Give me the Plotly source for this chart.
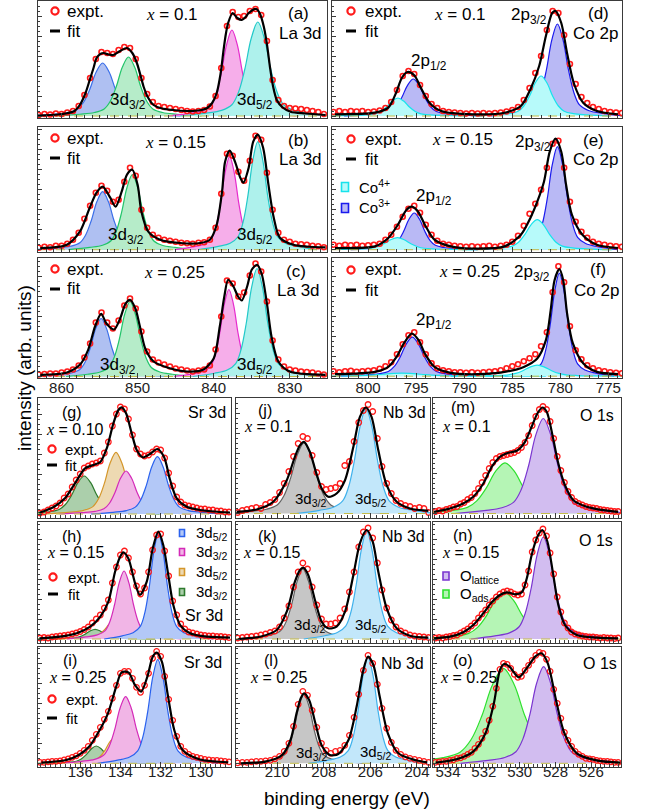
import numpy as np
import plotly.graph_objects as go

W, H = 649, 810
SANS = "Liberation Sans, Arial, sans-serif"

# ---------------- normalised line shape of one fitted component ----------------
# offsets in units of the FWHM, heights relative to the peak height
shape_dx = [-3.0, -2.0, -1.4, -1.0, -0.75, -0.5, -0.25, 0.0, 0.25, 0.5, 0.75, 1.0, 1.4, 2.0, 3.0]
shape_dy = [0.0, 0.03, 0.06, 0.12, 0.25, 0.5, 0.83, 1.0, 0.83, 0.5, 0.25, 0.12, 0.06, 0.03, 0.0]

# ---------------- measurement grids (first, last energy in eV) ----------------
la_grid = (863.0, 825.5)
co_grid = (803.6, 773.6)
sr_grid = (138.0, 128.6)
nb_grid = (211.7, 203.5)
o_grid = (534.7, 524.5)

# ---------------- La 3d ----------------
a_exp = [1, 2, 1.5, 2.5, 2, 3.5, 5, 10, 21, 38, 57, 64, 63, 62, 66, 69, 68, 57, 38, 22,
         14, 10, 9, 8, 7, 6, 5, 4.5, 5, 6, 9.5, 20, 48, 90, 104, 99, 100, 105, 107, 101,
         75, 36, 16, 10, 8, 7.5, 7, 6, 5, 4, 2]
a_fit_e = [863.1, 860.5, 859.3, 858.3, 857.6, 856.9, 856.3, 855.8, 855.4, 854.9, 854.5, 853.8, 853.2,
           852.3, 851.4, 850.7, 850.1, 849.6, 849.2, 848.6, 847.9, 846.8, 845.3, 843.5, 842.7, 841.6,
           840.9, 840.2, 839.6, 839.1, 838.7, 838.4, 838.1, 837.5, 836.9, 836.3, 835.8, 835.4, 834.4,
           833.9, 833.4, 833.0, 832.6, 832.2, 831.7, 831.0, 829.9, 828.0, 825.3]
a_fit_h = [0.5, 1.5, 2.7, 5, 11, 22, 36, 48, 58, 62, 63, 61.5, 61, 65, 68, 63, 53, 40, 29, 18, 11, 7.5,
           6, 5, 5, 6, 7.7, 13, 23, 42, 66, 82, 93, 103, 98, 96, 99, 103, 107, 102, 89, 72, 49, 30, 16,
           9, 4.3, 2.5, 1]
a_cen = [854.6, 851.2, 837.6, 834.2]
a_hgt = [53, 59, 86, 94]
a_fwhm = [3.4, 3.2, 2.8, 3.4]

b_exp = [2, 3, 2.5, 4, 4, 6, 10, 17, 31, 44, 57, 64, 59, 48, 50, 68, 82, 74, 40, 22,
         15, 12, 10, 9, 8, 7, 6.5, 6, 7, 7.5, 10, 22, 56, 96, 94, 78, 69, 89, 114, 110,
         77, 40, 17, 10, 8, 6, 5.5, 5, 4, 3.5, 2.5]
b_fit_e = [862.8, 859.3, 857.6, 856.3, 855.4, 854.6, 853.6, 852.9, 852.1, 851.4, 850.7, 850.0, 849.5,
           848.6, 847.05, 844.4, 841.8, 840.5, 839.6, 838.9, 838.5, 837.9, 837.2, 836.5, 836.1, 835.4,
           834.8, 834.2, 833.5, 832.8, 832.1, 831.3, 829.5, 825.3]
b_fit_h = [1.7, 5, 18, 42, 57, 63, 52, 43, 58, 75, 80, 65, 38, 18, 10, 6.7, 6.7, 10, 25, 58, 88, 99, 88,
           72, 67, 82, 108, 115, 102, 65, 32, 12, 5, 2.3]
b_cen = [854.6, 850.7, 837.9, 834.2]
b_hgt = [58, 75, 93, 108]
b_fwhm = [3.0, 2.8, 2.4, 2.6]

c_exp = [2, 2.5, 3, 3, 4, 5, 7, 11, 19, 33, 54, 64, 54, 48, 56, 71, 78, 68, 45, 25,
         17, 14, 12, 10, 8, 7, 6, 5, 6, 7, 11, 27, 60, 96, 93, 80, 84, 101, 113, 105,
         75, 36, 17, 10, 7, 6, 5, 4.5, 4, 3, 2]
c_fit_e = [862.8, 859.3, 857.6, 856.5, 855.6, 854.8, 854.1, 853.1, 852.3, 851.6, 851.0, 850.3, 849.7,
           849.0, 847.9, 846.2, 843.5, 841.4, 840.0, 839.2, 838.6, 838.1, 837.4, 836.8, 836.3, 835.6,
           835.0, 834.3, 833.7, 833.0, 832.4, 831.5, 830.0, 825.3]
c_fit_h = [1.7, 4, 11.7, 26.7, 50, 62.7, 53, 47, 58, 72.7, 76.7, 68, 50, 28, 15, 9.3, 5, 6.7, 18, 50, 80,
           96.7, 90, 80, 76, 90, 106.7, 111.7, 103, 73, 40, 15, 5, 1.7]
c_cen = [854.8, 851.0, 838.0, 834.3]
c_hgt = [58, 75, 87, 108]
c_fwhm = [2.8, 2.8, 2.4, 2.8]

# ---------------- Co 2p (Co3+ 2p1/2, Co3+ 2p3/2, Co4+ 2p1/2, Co4+ 2p3/2) ----------------
d_exp = [4, 5, 4, 5, 4.5, 5, 4, 4.5, 5.5, 8, 14, 26, 40, 45, 42, 31, 20, 12, 8, 5,
         4, 3.5, 3, 2.5, 3, 2.5, 3, 2.5, 3, 3.5, 4.5, 6, 9, 16, 28, 43, 60, 86, 105, 103,
         81, 52, 32, 19, 13, 9, 7, 5, 4, 3.5, 3]
d_fit_e = [803.45, 799.3, 797.9, 797.1, 796.5, 795.9, 795.2, 794.5, 793.6, 792.4, 789.0, 785.8, 784.1,
           783.1, 782.2, 781.5, 780.85, 780.5, 779.9, 779.3, 778.6, 777.6, 776.2, 774.0]
d_fit_h = [1.7, 3.3, 8.3, 23, 38, 44, 40.7, 28, 13, 5, 1.7, 3.3, 10, 27, 50, 80, 103, 105, 93, 63, 33,
           13, 5, 1.7]
d_cen = [795.3, 780.3, 796.9, 782.0]
d_hgt = [37, 92, 18, 40]
d_fwhm = [2.4, 2.3, 2.4, 2.4]

e_exp = [5, 4, 5, 4.5, 5, 4, 4.5, 5, 6, 10, 15, 23, 33, 41, 44, 37, 25, 15, 9, 6,
         5, 4, 3.5, 3, 3.5, 3, 3.5, 4, 3, 4, 5, 8, 14, 24, 36, 46, 60, 82, 106, 109,
         82, 48, 28, 18, 12, 8, 6, 5, 4, 3.5, 3]
e_fit_e = [803.45, 799.3, 797.9, 796.9, 796.0, 795.45, 794.8, 794.1, 793.1, 791.4, 788.6, 785.8, 784.1,
           783.1, 782.4, 781.7, 781.1, 780.5, 779.9, 779.4, 778.8, 777.7, 776.2, 774.0]
e_fit_h = [1.7, 3.3, 11.7, 25, 40, 43, 38, 25, 10, 3.3, 1, 3.3, 15, 32, 48, 68, 98, 111, 98, 65, 35, 15,
           5, 1.7]
e_cen = [795.2, 780.3, 796.95, 782.4]
e_hgt = [36.7, 103, 12, 30]
e_fwhm = [2.2, 2.1, 2.8, 2.6]

f_exp = [5, 4, 5, 5.5, 4.5, 5, 5.5, 6, 7.5, 10, 14, 22, 32, 41, 44, 34, 22, 13, 8, 6,
         5, 4, 4, 3.5, 4, 3.5, 4, 4.5, 5, 6, 8, 10, 12, 15, 18, 22, 30, 44, 84, 110,
         94, 50, 26, 17, 11, 8, 6, 5, 4, 3.5, 3]
f_fit_e = [803.45, 799.3, 797.9, 797.06, 796.2, 795.45, 794.75, 794.1, 793.1, 791.4, 788.6, 785.8,
           783.8, 782.4, 781.5, 781.0, 780.6, 780.1, 779.7, 779.3, 778.7, 777.6, 776.2, 774.0]
f_fit_h = [2, 4.3, 9.3, 19, 34, 42.7, 36, 22.7, 9.3, 3.3, 2, 4.3, 9.3, 17.7, 36, 66, 96, 107, 96, 63, 33,
           12.7, 4.3, 2]
f_cen = [795.4, 780.1, 796.5, 782.4]
f_hgt = [39, 103, 3, 11]
f_fwhm = [2.5, 1.9, 5.0, 3.0]

# ---------------- Sr 3d (green, tan, pink, blue) ----------------
g_exp = [1, 2, 4, 6, 8, 11, 16, 20, 27, 34, 40, 46, 48, 50, 51, 53, 61, 72, 88, 100,
         107, 105, 95, 79, 65, 60, 58, 59, 62, 65, 64, 56, 41, 28, 17, 12, 9, 8, 7, 6,
         5, 5, 4, 4, 3, 3, 2, 2]
g_fit_e = [138.03, 137.34, 136.76, 136.26, 135.76, 135.35, 135.0, 134.68, 134.35, 134.1, 133.94,
           133.72, 133.44, 133.19, 132.89, 132.53, 132.16, 131.83, 131.53, 131.2, 130.7, 130.04, 128.55]
g_fit_h = [1.3, 6.7, 15.7, 30.7, 45.7, 49, 52, 65.7, 90.7, 104, 106.7, 100.7, 80.7, 64, 56.7, 60, 65,
           57, 34, 15.7, 7.3, 4, 1.3]
g_cen = [135.8, 134.22, 133.72, 132.16]
g_hgt = [38, 61.7, 43, 57.3]
g_fwhm = [1.25, 1.15, 1.1, 1.1]

h_exp = [1, 1.5, 1, 2, 2.5, 3, 3.5, 4, 5, 6, 7.5, 9.5, 12, 16, 20, 24, 31, 39, 56, 72,
         84, 88, 81, 67, 53, 45, 51, 67, 89, 104, 105, 88, 63, 38, 24, 15, 10, 7, 6, 5,
         4, 3.5, 3, 3, 2.5, 2.5, 2, 1.5]
h_fit_e = [138.03, 137.0, 136.17, 135.5, 135.0, 134.6, 134.27, 134.02, 133.86, 133.61, 133.27, 133.03,
           132.69, 132.39, 132.11, 131.87, 131.62, 131.37, 131.03, 130.54, 129.71, 128.55]
h_fit_h = [0.7, 2.3, 5.7, 12.3, 22.3, 37.3, 67, 82, 86.7, 80.7, 55.7, 44, 57.3, 90.7, 107.3, 94, 64, 34,
           14, 5.7, 2.3, 1.3]
h_cen = [135.26, 134.3, 133.82, 132.11]
h_hgt = [9.7, 18, 68, 105.7]
h_fwhm = [1.0, 1.0, 0.95, 0.9]

i_exp = [1, 1, 1.5, 2, 2, 2.5, 3.5, 4.5, 6, 7.5, 10, 13, 17, 23, 29, 36, 44, 52, 65, 78,
         90, 92, 92, 85, 76, 71, 78, 90, 105, 112, 107, 87, 64, 43, 27, 17, 12, 9, 7, 6,
         5, 4, 3.5, 3, 3, 2.5, 2, 1.5]
i_fit_e = [137.93, 136.69, 136.07, 135.55, 135.04, 134.62, 134.21, 133.94, 133.59, 133.28, 132.97,
           132.66, 132.39, 132.19, 131.94, 131.63, 131.32, 130.91, 130.08, 128.64]
i_fit_h = [0.7, 3.3, 8.3, 16.7, 33, 50, 76.7, 91, 90.7, 78.3, 71.7, 86.7, 106.7, 110.7, 101.7, 66.7, 33,
           13.3, 4, 1]
i_cen = [135.2, 134.27, 133.74, 132.14]
i_hgt = [17.3, 26, 66.7, 104]
i_fwhm = [1.0, 1.0, 1.1, 1.0]

# ---------------- Nb 3d (3d3/2 grey, 3d5/2 blue) ----------------
j_exp = [1, 3, 4, 5, 6, 5, 9, 11, 14, 21, 30, 42, 57, 70, 77, 75, 58, 41, 27, 24,
         25, 26, 30, 48, 52, 72, 91, 103, 109, 102, 75, 47, 30, 20, 13, 10, 8, 7, 5, 6, 5, 1]
j_fit_e = [211.74, 210.88, 210.17, 209.59, 209.24, 209.02, 208.85, 208.6, 208.34, 208.09, 207.81,
           207.45, 207.09, 206.73, 206.45, 206.19, 205.95, 205.66, 205.3, 204.87, 204.3, 203.51]
j_fit_h = [1.7, 4, 11.7, 33.3, 56.7, 68.3, 71.7, 61.7, 41.7, 25, 16.7, 20, 33.3, 66.7, 96.7, 106, 96.7,
           63.3, 28.3, 11.7, 5, 2.7]
j_cen = [208.85, 206.19]
j_hgt = [70.7, 105]
j_fwhm = [1.15, 1.0]

k_exp = [1, 1.5, 2, 2.5, 3, 4, 5, 6.5, 8, 12, 21, 33, 52, 67, 76, 70, 52, 34, 20, 15,
         15, 16, 21, 30, 47, 67, 92, 107, 111, 101, 76, 49, 31, 19, 12, 8, 6, 4, 3, 2.5, 2, 1.5]
k_fit_e = [211.67, 210.74, 210.02, 209.59, 209.24, 209.02, 208.88, 208.67, 208.38, 208.09, 207.81,
           207.45, 207.09, 206.73, 206.45, 206.16, 205.9, 205.66, 205.3, 204.87, 204.3, 203.51]
k_fit_h = [0, 2.3, 9, 27.3, 57.3, 69, 71.3, 64, 39, 17.3, 10.7, 12.3, 27.3, 64, 95.7, 109, 97.3, 67.3,
           30.7, 10.7, 3.3, 1.3]
k_cen = [208.9, 206.16]
k_hgt = [70, 108]
k_fwhm = [0.95, 0.9]

l_exp = [0.5, 1, 1, 1.5, 2, 2, 2.5, 3, 4.5, 7, 12, 20, 37, 59, 72, 68, 53, 36, 20, 13,
         10, 12, 13, 18, 28, 46, 69, 93, 108, 100, 79, 55, 35, 21, 13, 9, 6.5, 5, 4, 3, 2, 1]
l_fit_e = [211.57, 210.5, 209.79, 209.43, 209.17, 208.99, 208.85, 208.63, 208.36, 208.1, 207.74,
           207.38, 206.94, 206.59, 206.32, 206.1, 205.87, 205.6, 205.25, 204.8, 204.09, 203.56]
l_fit_h = [0, 1.7, 8.3, 23.3, 50, 65, 70, 63.3, 40, 18.3, 8.3, 9.3, 23.3, 56.7, 91.7, 106.7, 98.3, 66.7,
           30, 10, 3.3, 1]
l_cen = [208.85, 206.1]
l_hgt = [69, 106]
l_fwhm = [0.85, 0.85]

# ---------------- O 1s (O_ads green, O_lattice purple) ----------------
m_exp = [2, 3, 2.5, 4, 5, 6.5, 7, 9.5, 11, 14, 16, 20, 25, 31, 38, 45, 51, 55, 57, 58,
         59, 60, 61, 63, 66, 71, 78, 88, 97, 104, 107, 104, 92, 75, 57, 43, 31, 22, 16, 12,
         10, 8.5, 7, 6, 5.5, 5, 4, 3.5, 3, 2.5, 2, 2]
m_fit_e = [534.78, 533.89, 533.15, 532.59, 532.03, 531.56, 531.1, 530.63, 530.16, 529.7, 529.33,
           529.01, 528.73, 528.49, 528.15, 527.84, 527.47, 527.0, 526.25, 525.33, 524.5]
m_fit_h = [1.7, 5, 10, 16.7, 30, 46.7, 56.7, 60.7, 62.7, 71.7, 86.7, 100, 106, 101.7, 76.7, 50, 28.3,
           13.3, 6.7, 3.3, 1.7]
m_cen = [530.82, 528.68]
m_hgt = [50.7, 95]
m_fwhm = [2.1, 1.65]

n_exp = [1, 1.5, 1, 2, 2.5, 3.5, 4, 6, 8, 10, 13, 16, 21, 25, 29, 34, 38, 42, 45, 47,
         48, 47, 45, 44, 45, 54, 68, 87, 99, 106, 110, 103, 86, 65, 42, 27, 16, 11, 7, 5,
         4, 3, 2.5, 2, 2, 1.5, 1, 1.5, 1, 1, 0.5, 1]
n_fit_e = [534.78, 533.89, 533.15, 532.59, 532.03, 531.56, 531.1, 530.72, 530.26, 529.88, 529.6,
           529.33, 529.01, 528.73, 528.45, 528.15, 527.84, 527.47, 526.81, 525.7, 524.5]
n_fit_h = [0.7, 2.3, 6.7, 14, 25.7, 36.7, 44, 46.7, 44.7, 46.7, 60.7, 84, 102.3, 109, 97.3, 67.3, 34, 14,
           4, 1.3, 0.7]
n_cen = [530.85, 528.68]
n_hgt = [46.7, 102]
n_fwhm = [2.0, 1.35]

o_exp = [1, 1.5, 2, 2, 3, 3.5, 5, 5.5, 7, 9, 11, 15, 19, 25, 32, 43, 57, 75, 94, 100,
         99, 95, 89, 86, 87, 93, 98, 103, 108, 111, 110, 104, 92, 74, 60, 45, 31, 23, 17, 12,
         9, 7, 5, 4.5, 4, 3, 2.5, 2, 2, 1.5, 1, 1]
o_fit_e = [534.69, 533.53, 532.6, 531.91, 531.44, 531.1, 530.87, 530.57, 530.05, 529.54, 529.13,
           528.78, 528.43, 527.97, 527.5, 526.81, 525.65, 524.38]
o_fit_h = [0.7, 4, 11.7, 30, 60, 93.3, 99.3, 96.7, 86, 96.7, 106.7, 110, 100, 63.3, 30, 10, 2.7, 0.7]
o_cen = [530.91, 528.66]
o_hgt = [95, 96.7]
o_fwhm = [2.4, 1.55]

# ---------------- axis ranges / tick labels ----------------
la_range = [863.1, 825.1]
co_range = [803.76, 773.58]
sr_range = [138.1, 128.5]
nb_range = [211.77, 203.44]
o_range = [534.84, 524.34]
la_ticks = [860, 850, 840, 830]
co_ticks = [800, 795, 790, 785, 780, 775]
sr_ticks = [136, 134, 132, 130]
nb_ticks = [210, 208, 206, 204]
o_ticks = [534, 532, 530, 528, 526]

# ---------------- styling ----------------
LA_COL = [("#3a6ee8", "#afc0f2"), ("#22c46a", "#b6ecc9"), ("#e62ccd", "#f6aeea"), ("#22c9c9", "#aef1ec")]
CO_COL = [("#1a1aee", "#b9b9f5"), ("#1a1aee", "#b9b9f5"), ("#17e3ec", "#b7fafa"), ("#17e3ec", "#b7fafa")]
SR_COL = [("#2d7a2d", "#abcfab"), ("#d4962a", "#edd9b2"), ("#d42ab8", "#f1b5e6"), ("#2a62ee", "#b3c8f7")]
NB_COL = [("#606060", "#c6c6c6"), ("#3fb1ec", "#c2e7fa")]
O_COL = [("#2ee02e", "#b5f5b5"), ("#7a35d0", "#d2bdf0")]

# (data, box x0,x1,y0,y1, baseline y) in pixels
panels = [
    dict(exp=a_exp, grid=la_grid, fe=a_fit_e, fh=a_fit_h, cen=a_cen, hgt=a_hgt, fw=a_fwhm, col=LA_COL,
         box=(38, 327, 1, 118, 116), rng=la_range, tv=la_ticks, mdt=1, lab=False, top=True),
    dict(exp=b_exp, grid=la_grid, fe=b_fit_e, fh=b_fit_h, cen=b_cen, hgt=b_hgt, fw=b_fwhm, col=LA_COL,
         box=(38, 327, 127, 252, 249.7), rng=la_range, tv=la_ticks, mdt=1, lab=False, top=True),
    dict(exp=c_exp, grid=la_grid, fe=c_fit_e, fh=c_fit_h, cen=c_cen, hgt=c_hgt, fw=c_fwhm, col=LA_COL,
         box=(38, 327, 258, 378, 376.5), rng=la_range, tv=la_ticks, mdt=1, lab=True, top=True),
    dict(exp=d_exp, grid=co_grid, fe=d_fit_e, fh=d_fit_h, cen=d_cen, hgt=d_hgt, fw=d_fwhm, col=CO_COL,
         box=(332, 622, 1, 118, 116), rng=co_range, tv=co_ticks, mdt=1, lab=False, top=True),
    dict(exp=e_exp, grid=co_grid, fe=e_fit_e, fh=e_fit_h, cen=e_cen, hgt=e_hgt, fw=e_fwhm, col=CO_COL,
         box=(332, 622, 127, 252, 249.7), rng=co_range, tv=co_ticks, mdt=1, lab=False, top=True),
    dict(exp=f_exp, grid=co_grid, fe=f_fit_e, fh=f_fit_h, cen=f_cen, hgt=f_hgt, fw=f_fwhm, col=CO_COL,
         box=(332, 622, 258, 378, 376.2), rng=co_range, tv=co_ticks, mdt=1, lab=True, top=True),
    dict(exp=g_exp, grid=sr_grid, fe=g_fit_e, fh=g_fit_h, cen=g_cen, hgt=g_hgt, fw=g_fwhm, col=SR_COL,
         box=(38, 231, 398, 518, 514), rng=sr_range, tv=sr_ticks, mdt=0.25, lab=False, top=False),
    dict(exp=h_exp, grid=sr_grid, fe=h_fit_e, fh=h_fit_h, cen=h_cen, hgt=h_hgt, fw=h_fwhm, col=SR_COL,
         box=(38, 231, 522.3, 642.7, 639), rng=sr_range, tv=sr_ticks, mdt=0.25, lab=False, top=False),
    dict(exp=i_exp, grid=sr_grid, fe=i_fit_e, fh=i_fit_h, cen=i_cen, hgt=i_hgt, fw=i_fwhm, col=SR_COL,
         box=(38, 231, 646.7, 766.7, 763.3), rng=sr_range, tv=sr_ticks, mdt=0.25, lab=True, top=False),
    dict(exp=j_exp, grid=nb_grid, fe=j_fit_e, fh=j_fit_h, cen=j_cen, hgt=j_hgt, fw=j_fwhm, col=NB_COL,
         box=(236, 430, 398, 518, 513.5), rng=nb_range, tv=nb_ticks, mdt=0.25, lab=False, top=False),
    dict(exp=k_exp, grid=nb_grid, fe=k_fit_e, fh=k_fit_h, cen=k_cen, hgt=k_hgt, fw=k_fwhm, col=NB_COL,
         box=(236, 430, 522.3, 642.7, 639), rng=nb_range, tv=nb_ticks, mdt=0.25, lab=False, top=False),
    dict(exp=l_exp, grid=nb_grid, fe=l_fit_e, fh=l_fit_h, cen=l_cen, hgt=l_hgt, fw=l_fwhm, col=NB_COL,
         box=(236, 430, 646.7, 766.7, 763.3), rng=nb_range, tv=nb_ticks, mdt=0.25, lab=True, top=False),
    dict(exp=m_exp, grid=o_grid, fe=m_fit_e, fh=m_fit_h, cen=m_cen, hgt=m_hgt, fw=m_fwhm, col=O_COL,
         box=(433, 621, 398, 518, 513.5), rng=o_range, tv=o_ticks, mdt=0.25, lab=False, top=False),
    dict(exp=n_exp, grid=o_grid, fe=n_fit_e, fh=n_fit_h, cen=n_cen, hgt=n_hgt, fw=n_fwhm, col=O_COL,
         box=(433, 621, 522.3, 642.7, 639), rng=o_range, tv=o_ticks, mdt=0.25, lab=False, top=False),
    dict(exp=o_exp, grid=o_grid, fe=o_fit_e, fh=o_fit_h, cen=o_cen, hgt=o_hgt, fw=o_fwhm, col=O_COL,
         box=(433, 621, 646.7, 766.7, 763.3), rng=o_range, tv=o_ticks, mdt=0.25, lab=True, top=False),
]

fig = go.Figure()
layout = {}
AX = "#3a3a3a"

for idx, p in enumerate(panels, start=1):
    xa = "x" if idx == 1 else f"x{idx}"
    ya = "y" if idx == 1 else f"y{idx}"
    x0, x1, y0, y1, base = p["box"]
    # fitted components (filled)
    for c, h, fw, (lc, fc) in zip(p["cen"], p["hgt"], p["fw"], p["col"]):
        fig.add_trace(go.Scatter(
            x=[c + fw * d for d in shape_dx], y=[h * d for d in shape_dy],
            mode="lines", line=dict(color=lc, width=1.2, shape="spline", smoothing=1.0),
            fill="tozeroy", fillcolor=fc, xaxis=xa, yaxis=ya, showlegend=False, hoverinfo="skip"))
    # background line
    fig.add_trace(go.Scatter(x=p["rng"], y=[0, 0], mode="lines",
                             line=dict(color="#c4bc4a", width=1, dash="dash"),
                             xaxis=xa, yaxis=ya, showlegend=False, hoverinfo="skip"))
    # experimental points
    ex = np.linspace(p["grid"][0], p["grid"][1], len(p["exp"]))
    fig.add_trace(go.Scatter(
        x=ex, y=p["exp"], mode="markers",
        marker=dict(symbol="circle-open", color="#ff1a1a", size=5 if p["top"] else 5.5,
                    line=dict(width=1.6 if p["top"] else 1.3)),
        xaxis=xa, yaxis=ya, showlegend=False, hoverinfo="skip"))
    # fit envelope
    fig.add_trace(go.Scatter(
        x=p["fe"], y=p["fh"], mode="lines",
        line=dict(color="black", width=2.2, shape="spline", smoothing=0.8),
        xaxis=xa, yaxis=ya, showlegend=False, hoverinfo="skip"))

    layout["xaxis" if idx == 1 else f"xaxis{idx}"] = dict(
        domain=[x0 / W, x1 / W], range=p["rng"], anchor=ya,
        showline=True, mirror=True, linecolor=AX, linewidth=1.4,
        ticks="inside", ticklen=5, tickcolor=AX, tickwidth=1,
        tickmode="array", tickvals=p["tv"],
        minor=dict(ticks="inside", ticklen=2.5, tickcolor=AX, dtick=p["mdt"]),
        showticklabels=p["lab"], ticklabelstandoff=-4 if p["top"] else -9,
        tickfont=dict(size=15, family=SANS, color="#222"),
        showgrid=False, zeroline=False, fixedrange=True)
    layout["yaxis" if idx == 1 else f"yaxis{idx}"] = dict(
        domain=[1 - y1 / H, 1 - y0 / H], range=[-(y1 - base), base - y0], anchor=xa,
        showline=True, mirror=True, linecolor=AX, linewidth=1.4,
        ticks="inside", ticklen=4, tickcolor=AX, dtick=20,
        minor=dict(ticks="inside", ticklen=2, tickcolor=AX, dtick=5),
        showticklabels=False, showgrid=False, zeroline=False, fixedrange=True)

# ---------------- text and legend glyphs ----------------
ann = []
shapes = []


def P(px, py):
    return px / W, 1 - py / H


def txt(px, py, text, size=17, xanchor="center", angle=0):
    x, y = P(px, py)
    ann.append(dict(x=x, y=y, xref="paper", yref="paper", text=text, showarrow=False,
                    xanchor=xanchor, yanchor="middle", textangle=angle,
                    font=dict(size=size, family=SANS, color="black")))


def circ(px, py, r=3.6, w=2.2):
    x0, y0 = P(px - r, py + r)
    x1, y1 = P(px + r, py - r)
    shapes.append(dict(type="circle", xref="paper", yref="paper", x0=x0, y0=y0, x1=x1, y1=y1,
                       line=dict(color="#ff1a1a", width=w)))


def dash(px, py, half=5, w=3):
    x0, y0 = P(px - half, py)
    x1, _ = P(px + half, py)
    shapes.append(dict(type="line", xref="paper", yref="paper", x0=x0, y0=y0, x1=x1, y1=y0,
                       line=dict(color="black", width=w)))


def box(px, py, lc, fc, w=3.5, h=4.5):
    x0, y0 = P(px - w, py + h)
    x1, y1 = P(px + w, py - h)
    shapes.append(dict(type="rect", xref="paper", yref="paper", x0=x0, y0=y0, x1=x1, y1=y1,
                       line=dict(color=lc, width=1.6), fillcolor=fc))


def legend(cx, ye, yf, tx, size):
    circ(cx, ye)
    dash(cx, yf)
    txt(tx, ye, "expt.", size, "left")
    txt(tx, yf, "fit", size, "left")


XI = '<span style="font-family:Liberation Serif, Times New Roman, serif"><i>x</i></span>'

# (a)-(c) La 3d
legend(55, 11, 31, 65, 17)
txt(172, 15, XI + " = 0.1")
txt(298, 13, "(a)")
txt(300, 33, "La 3d")
txt(128, 101, "3d<sub>3/2</sub>")
txt(255, 101, "3d<sub>5/2</sub>")

legend(55, 138, 158, 65, 17)
txt(175, 143, XI + " = 0.15")
txt(298, 140, "(b)")
txt(300, 159, "La 3d")
txt(126, 236, "3d<sub>3/2</sub>")
txt(255, 236, "3d<sub>5/2</sub>")

legend(55, 269, 289, 65, 17)
txt(174, 272, XI + " = 0.25")
txt(296, 271, "(c)")
txt(298, 290, "La 3d")
txt(118, 366, "3d<sub>3/2</sub>")
txt(255, 366, "3d<sub>5/2</sub>")

# (d)-(f) Co 2p
legend(351, 11, 31, 363, 17)
txt(460, 15, XI + " = 0.1")
txt(529, 16, "2p<sub>3/2</sub>")
txt(598, 13, "(d)")
txt(595, 33, "Co 2p")
txt(429, 62, "2p<sub>1/2</sub>")

legend(351, 139, 159, 363, 17)
txt(462, 139, XI + " = 0.15")
txt(533, 143, "2p<sub>3/2</sub>")
txt(593, 140, "(e)")
txt(595, 159, "Co 2p")
txt(434, 197, "2p<sub>1/2</sub>")
box(345, 187, "#17e3ec", "#b7fafa")
txt(357, 186, "Co<sup>4+</sup>", 15, "left")
box(345, 208, "#1a1aee", "#b9b9f5")
txt(357, 207, "Co<sup>3+</sup>", 15, "left")

legend(351, 270, 290, 363, 17)
txt(469, 271, XI + " = 0.25")
txt(532, 273, "2p<sub>3/2</sub>")
txt(598, 270, "(f)")
txt(596, 290, "Co 2p")
txt(434, 321, "2p<sub>1/2</sub>")

# (g)-(i) Sr 3d
txt(72, 412, "(g)", 16)
txt(207, 412, "Sr 3d", 16)
txt(75, 429, XI + " = 0.10", 16)
legend(52, 449, 465, 63, 15)

txt(72, 536, "(h)", 16)
txt(76, 552, XI + " = 0.15", 16)
legend(53, 577, 594, 66, 15)
for yy, (lc, fc), lab in zip([533, 552, 572, 592], [SR_COL[3], SR_COL[2], SR_COL[1], SR_COL[0]],
                             ["3d<sub>5/2</sub>", "3d<sub>3/2</sub>", "3d<sub>5/2</sub>", "3d<sub>3/2</sub>"]):
    box(182, yy, lc, fc, 2.5, 3.5)
    txt(194, yy, lab, 15, "left")
txt(204, 615, "Sr 3d", 16)

txt(70, 660, "(i)", 16)
txt(203, 662, "Sr 3d", 16)
txt(78, 677, XI + " = 0.25", 16)
legend(52, 699, 718, 64, 15)

# (j)-(l) Nb 3d
txt(265, 410, "(j)", 16)
txt(404, 412, "Nb 3d", 16)
txt(268, 426, XI + " = 0.1", 16)
txt(310, 499, "3d<sub>3/2</sub>", 15)
txt(370, 499, "3d<sub>5/2</sub>", 15)

txt(267, 536, "(k)", 16)
txt(403, 536, "Nb 3d", 16)
txt(272, 552, XI + " = 0.15", 16)
txt(309, 625, "3d<sub>3/2</sub>", 15)
txt(370, 625, "3d<sub>5/2</sub>", 15)

txt(271, 660, "(l)", 16)
txt(402, 663, "Nb 3d", 16)
txt(279, 677, XI + " = 0.25", 16)
txt(311, 753, "3d<sub>3/2</sub>", 15)
txt(375, 752, "3d<sub>5/2</sub>", 15)

# (m)-(o) O 1s
txt(463, 408, "(m)", 16)
txt(597, 415, "O 1s", 16)
txt(467, 426, XI + " = 0.1", 16)

txt(463, 535, "(n)", 16)
txt(596, 540, "O 1s", 16)
txt(471, 552, XI + " = 0.15", 16)
box(446, 576, O_COL[1][0], O_COL[1][1], 3, 4)
txt(458, 576, "O<sub>lattice</sub>", 15, "left")
box(446, 594, O_COL[0][0], O_COL[0][1], 3, 4)
txt(458, 594, "O<sub>ads</sub>", 15, "left")

txt(463, 660, "(o)", 16)
txt(600, 663, "O 1s", 16)
txt(469, 677, XI + " = 0.25", 16)

# axis titles
txt(24, 368, "intensity (arb. units)", 19, "center", -90)
txt(347, 798, "binding energy (eV)", 19)

fig.update_layout(
    width=W, height=H, margin=dict(l=0, r=0, t=0, b=0),
    paper_bgcolor="white", plot_bgcolor="white",
    showlegend=False, annotations=ann, shapes=shapes,
    font=dict(family=SANS, color="black"), **layout)

fig.write_html("out.html")
